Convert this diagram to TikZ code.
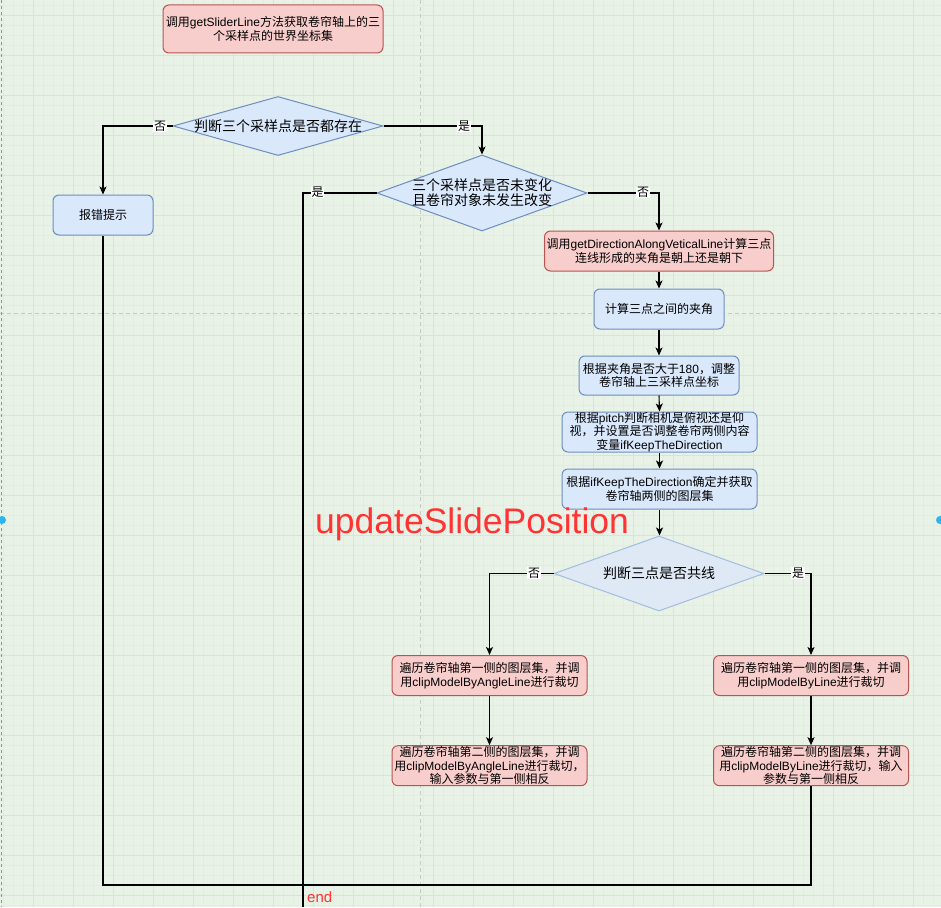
\documentclass[tikz,border=0pt]{standalone}
\usepackage{fontspec}
\setmainfont{Noto Sans CJK SC}
\newfontfamily\latf{Liberation Sans}
\usetikzlibrary{arrows.meta,shapes.geometric}
\newcommand\enw[1]{{\latf #1}}
\definecolor{bgc}{HTML}{E8F2E6}
\definecolor{minorc}{HTML}{E2ECDF}
\definecolor{majorc}{HTML}{D8E5D5}
\definecolor{pagec}{HTML}{C4CAC3}
\definecolor{redfill}{HTML}{F8CECC}
\definecolor{redline}{HTML}{B85450}
\definecolor{bluefill}{HTML}{DAE8FC}
\definecolor{blueline}{HTML}{6C8EBF}
\definecolor{lightfill}{HTML}{DFE9F6}
\definecolor{lightline}{HTML}{A3BCE0}
\definecolor{selblue}{HTML}{29B6F2}
\definecolor{redtext}{HTML}{FF3333}
\begin{document}
\begin{tikzpicture}[x=1pt,y=-1pt,
  minorgrid/.style={draw=minorc,line width=0.5pt},
  majorgrid/.style={draw=majorc,line width=0.8pt},
  pagebreak/.style={draw=pagec,line width=0.7pt,dash pattern=on 4pt off 3pt},
  selline/.style={draw=selblue,line width=0.9pt,dash pattern=on 3pt off 3pt},
  seldot/.style={fill=selblue},
  boxbase/.style={rectangle,rounded corners=6pt,line width=1pt,align=center,
    inner sep=0pt,text=black,font=\fontsize{12}{13.6}\selectfont},
  redbox/.style={boxbase,draw=redline,fill=redfill},
  bluebox/.style={boxbase,draw=blueline,fill=bluefill},
  dia/.style={diamond,inner sep=0pt,line width=1pt,draw=blueline,fill=bluefill},
  dialight/.style={dia,draw=lightline,fill=lightfill},
  dtext/.style={inner sep=0pt,align=center,text=black,font=\fontsize{14}{15}\selectfont},
  conn/.style={draw=black,line width=1.1pt},
  arr/.style={conn,-{Stealth[length=8pt,width=7pt,inset=2pt]}},
  elabel/.style={fill=white,inner sep=0.6pt,text=black,font=\fontsize{12}{12}\selectfont},
  bigred/.style={inner sep=0pt,anchor=base west,text=redtext,font=\latf\fontsize{35.5}{40}\selectfont},
  endred/.style={inner sep=0pt,anchor=base west,text=redtext,font=\latf\fontsize{15}{17}\selectfont}
]
\useasboundingbox (0,0) rectangle (941,907);
\fill[bgc] (0,0) rectangle (941,907);
% grid
\foreach \x in {3,13,...,943} \draw[minorgrid] (\x,0) -- (\x,907);
\foreach \y in {5,15,...,905} \draw[minorgrid] (0,\y) -- (941,\y);
\foreach \x in {33,73,...,913} \draw[majorgrid] (\x,0) -- (\x,907);
\foreach \y in {15,55,...,895} \draw[majorgrid] (0,\y) -- (941,\y);
% page breaks
\draw[pagebreak] (420.5,0) -- (420.5,907);
\draw[pagebreak] (0,313) -- (941,313);
% selection marks
\draw[selline] (1.5,0) -- (1.5,907);
\fill[seldot] (2,520) circle (4pt);
\fill[seldot] (940,520) circle (4pt);

% nodes
\node[redbox,minimum width=220pt,minimum height=48pt] (top) at (273,29)
  {调用\enw{getSliderLine}方法获取卷帘轴上的三\\个采样点的世界坐标集};
\node[dia,minimum width=210pt,minimum height=59pt,
  label={[dtext]center:判断三个采样点是否都存在}] (d1) at (278,126) {};
\node[bluebox,minimum width=100pt,minimum height=40pt] (err) at (103,215) {报错提示};
\node[dia,minimum width=210pt,minimum height=76pt,
  label={[dtext]center:{三个采样点是否未变化\\且卷帘对象未发生改变}}] (d2) at (482,193) {};
\node[redbox,minimum width=229pt,minimum height=40pt] (r2) at (659,251)
  {调用\enw{getDirectionAlongVeticalLine}计算三点\\连线形成的夹角是朝上还是朝下};
\node[bluebox,minimum width=130pt,minimum height=40pt] (b3) at (659,309) {计算三点之间的夹角};
\node[bluebox,minimum width=160pt,minimum height=39pt] (b4) at (659,375.5)
  {根据夹角是否大于\enw{180}，调整\\卷帘轴上三采样点坐标};
\node[bluebox,minimum width=195pt,minimum height=40pt] (b5) at (659.5,432)
  {根据\enw{pitch}判断相机是俯视还是仰\\视，并设置是否调整卷帘两侧内容\\变量\enw{ifKeepTheDirection}};
\node[bluebox,minimum width=195pt,minimum height=40pt] (b6) at (659.5,489)
  {根据\enw{ifKeepTheDirection}确定并获取\\卷帘轴两侧的图层集};
\node[dialight,minimum width=210pt,minimum height=75pt,
  label={[dtext]center:判断三点是否共线}] (d3) at (659,573.5) {};
\node[redbox,minimum width=195pt,minimum height=40pt] (lb1) at (489.5,675.5)
  {遍历卷帘轴第一侧的图层集，并调\\用\enw{clipModelByAngleLine}进行裁切};
\node[redbox,minimum width=195pt,minimum height=40pt] (lb2) at (489.5,765.7)
  {遍历卷帘轴第二侧的图层集，并调\\用\enw{clipModelByAngleLine}进行裁切，\\输入参数与第一侧相反};
\node[redbox,minimum width=195pt,minimum height=40pt] (rb1) at (811,675.5)
  {遍历卷帘轴第一侧的图层集，并调\\用\enw{clipModelByLine}进行裁切};
\node[redbox,minimum width=195pt,minimum height=40pt] (rb2) at (811,765.7)
  {遍历卷帘轴第二侧的图层集，并调\\用\enw{clipModelByLine}进行裁切，输入\\参数与第一侧相反};

\coordinate (dEnd) at (303,907);
\coordinate (botL) at (103,885);

% connectors
\draw[arr] (d1.west) -| (err.north);
\draw[arr] (d1.east) -| (d2.north);
\draw[conn] (d2.west) -| (dEnd);
\draw[arr] (d2.east) -| (r2.north);
\draw[arr] (r2.south) -- (b3.north);
\draw[arr] (b3.south) -- (b4.north);
\draw[arr] (b4.south) -- (b5.north);
\draw[arr] (b5.south) -- (b6.north -| b5.south);
\draw[arr] (b6.south) -- (d3.north -| b6.south);
\draw[arr] (d3.west) -| (lb1.north);
\draw[arr] (d3.east) -| (rb1.north);
\draw[arr] (lb1.south) -- (lb2.north);
\draw[arr] (rb1.south) -- (rb2.north);
\draw[conn] (rb2.south) |- (botL) -- (err.south);

% edge labels
\node[elabel] (l1) at (160,126.5) {否};
\node[elabel] (l2) at (464,126.5) {是};
\node[elabel] (l3) at (317.5,192.5) {是};
\node[elabel] (l4) at (643,192.5) {否};
\node[elabel] (l5) at (534,573) {否};
\node[elabel] (l6) at (798,573) {是};

% free texts
\node[bigred] (title) at (315,533) {updateSlidePosition};
\node[endred] (endt) at (307,902) {end};
\end{tikzpicture}
\end{document}
